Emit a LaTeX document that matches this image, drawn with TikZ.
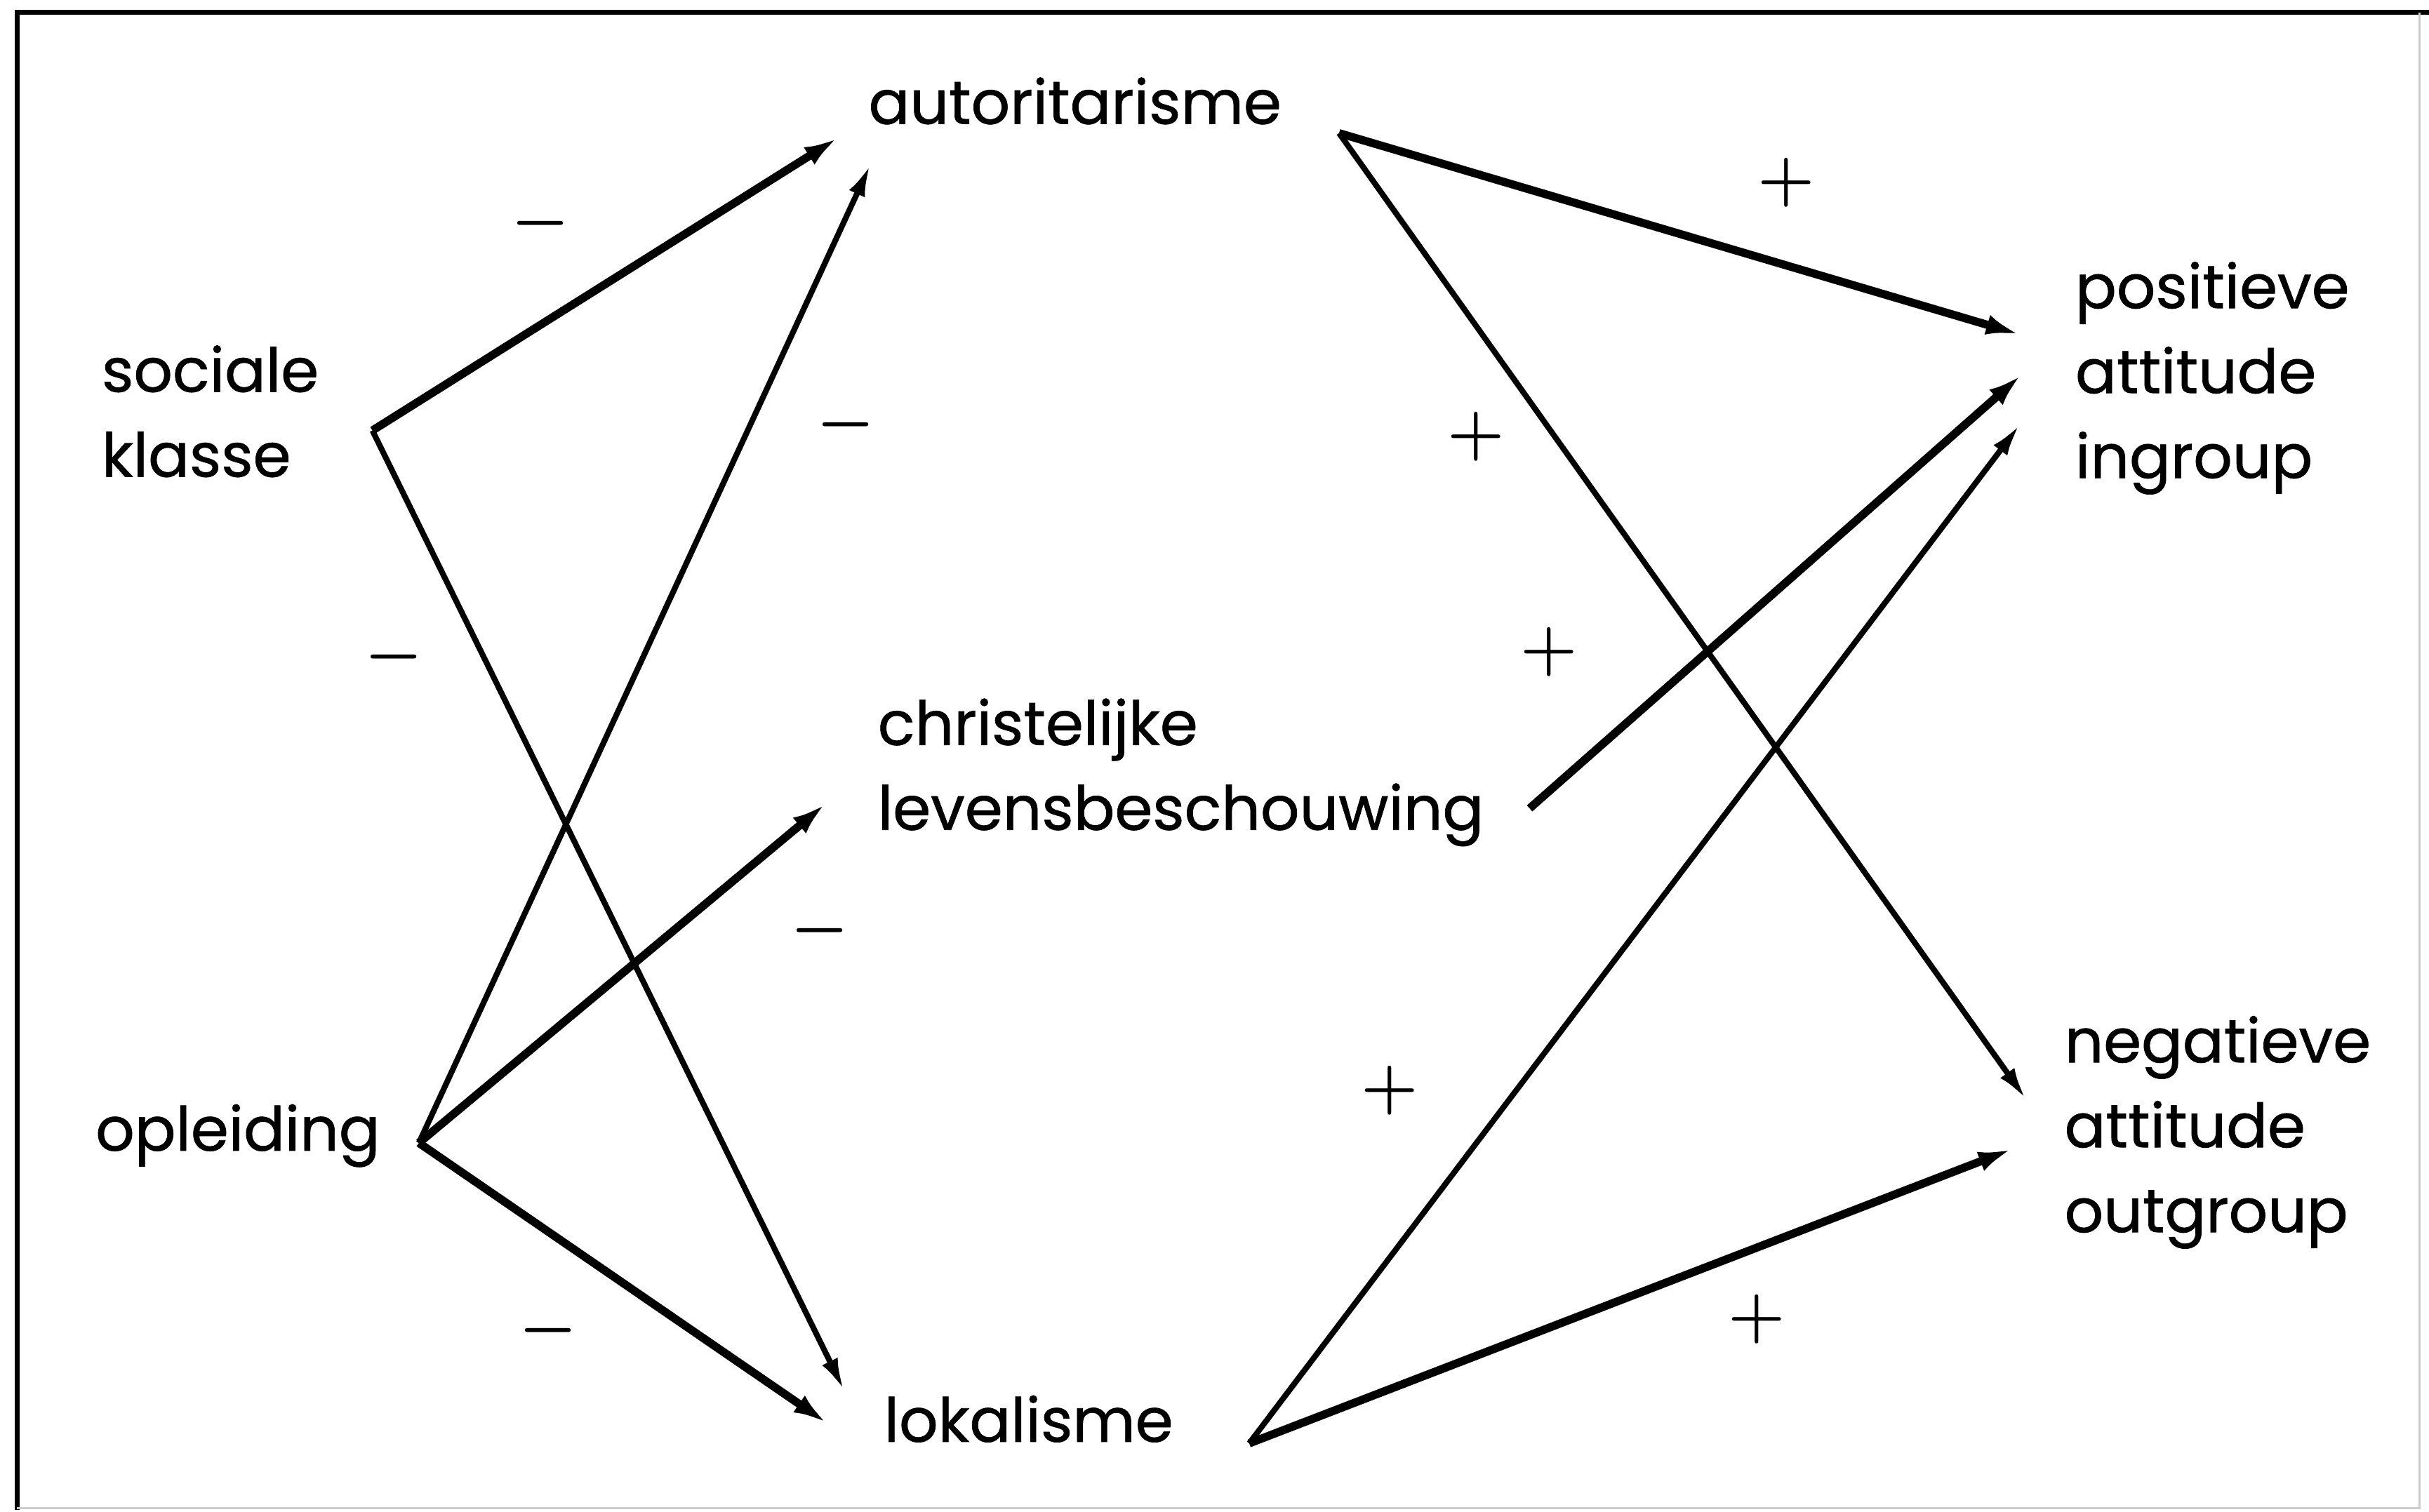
\documentclass[tikz,border=0pt]{standalone}
\usepackage{fontspec}
\setmainfont{Poppins}
\newfontfamily\varfont[FakeBold=0.8]{Poppins}
\usetikzlibrary{arrows.meta}
\tikzset{
  var/.style={inner sep=0pt, align=left, anchor=base west,
    font=\varfont\fontsize{11.2}{15.6}\selectfont},
  sign/.style={inner sep=0pt, font=\fontsize{12}{14}\selectfont\boldmath},
  heavy/.style={line width=1.5pt, -{Latex[length=2.2mm,width=1.3mm]}},
  light/.style={line width=1.05pt, -{Latex[length=2.1mm,width=1.1mm]}}
}
\begin{document}
\begin{tikzpicture}[x=0.1mm,y=-0.1mm]
  \useasboundingbox (0,0) rectangle (1568,976);
  \draw[line width=0.9pt] (11,975) -- (11,8) -- (1568,8);
  \draw[gray!40,line width=0.4pt] (1562,8) -- (1562,974) -- (11,974);

  \node[var,text width=30.3mm] (au) at (560,80) {autoritarisme};
  \node[var,text width=17.4mm] (sk) at (65,253) {sociale\\klasse};
  \node[var,text width=20.8mm] (opl) at (61,743) {opleiding};
  \node[var,text width=42mm] (ch) at (566,481) {christelijke\\levensbeschouwing};
  \node[var,text width=23.5mm] (lok) at (570,931) {lokalisme};
  \node[var,text width=20mm] (pos) at (1339,199) {positieve\\attitude\\ingroup};
  \node[var,text width=21mm] (neg) at (1332,686) {negatieve\\attitude\\outgroup};

  \draw[heavy] ([yshift=-2.5mm]sk.base east) -- ([xshift=-1.9mm,yshift=-0.9mm]au.base west);
  \draw[light] ([yshift=-2.5mm]sk.base east) -- ([xshift=-2.5mm,yshift=3.3mm]lok.base west);
  \draw[light] ([yshift=0.5mm]opl.base east) -- ([xshift=0.2mm,yshift=-2.6mm]au.base west);
  \draw[heavy] ([yshift=0.5mm]opl.base east) -- ([xshift=-3.3mm,yshift=-3.8mm]ch.base west);
  \draw[heavy] ([yshift=0.5mm]opl.base east) -- ([xshift=-3.6mm,yshift=1.2mm]lok.base west);
  \draw[heavy] ([yshift=-0.6mm]au.base east) -- ([xshift=-3.5mm,yshift=-1.7mm]pos.base west);
  \draw[light] ([yshift=-0.6mm]au.base east) -- ([xshift=-2.4mm,yshift=-2.4mm]neg.base west);
  \draw[heavy] ([yshift=-4.1mm]ch.base east) -- ([xshift=-3.4mm,yshift=-4.3mm]pos.base west);
  \draw[light] ([yshift=-0.1mm]lok.base east) -- ([xshift=-3.5mm,yshift=-7.5mm]pos.base west);
  \draw[heavy] ([yshift=-0.1mm]lok.base east) -- ([xshift=-3.3mm,yshift=-5.6mm]neg.base west);

  \node[sign] (m1) at (349,144) {$-$};
  \node[sign] (m2) at (546,274) {$-$};
  \node[sign] (m3) at (254,424) {$-$};
  \node[sign] (m4) at (529,601) {$-$};
  \node[sign] (m5) at (354,859) {$-$};
  \node[sign] (p1) at (1153,118) {$+$};
  \node[sign] (p2) at (953,282) {$+$};
  \node[sign] (p3) at (1000,421) {$+$};
  \node[sign] (p4) at (897,704) {$+$};
  \node[sign] (p5) at (1134,852) {$+$};
\end{tikzpicture}
\end{document}
